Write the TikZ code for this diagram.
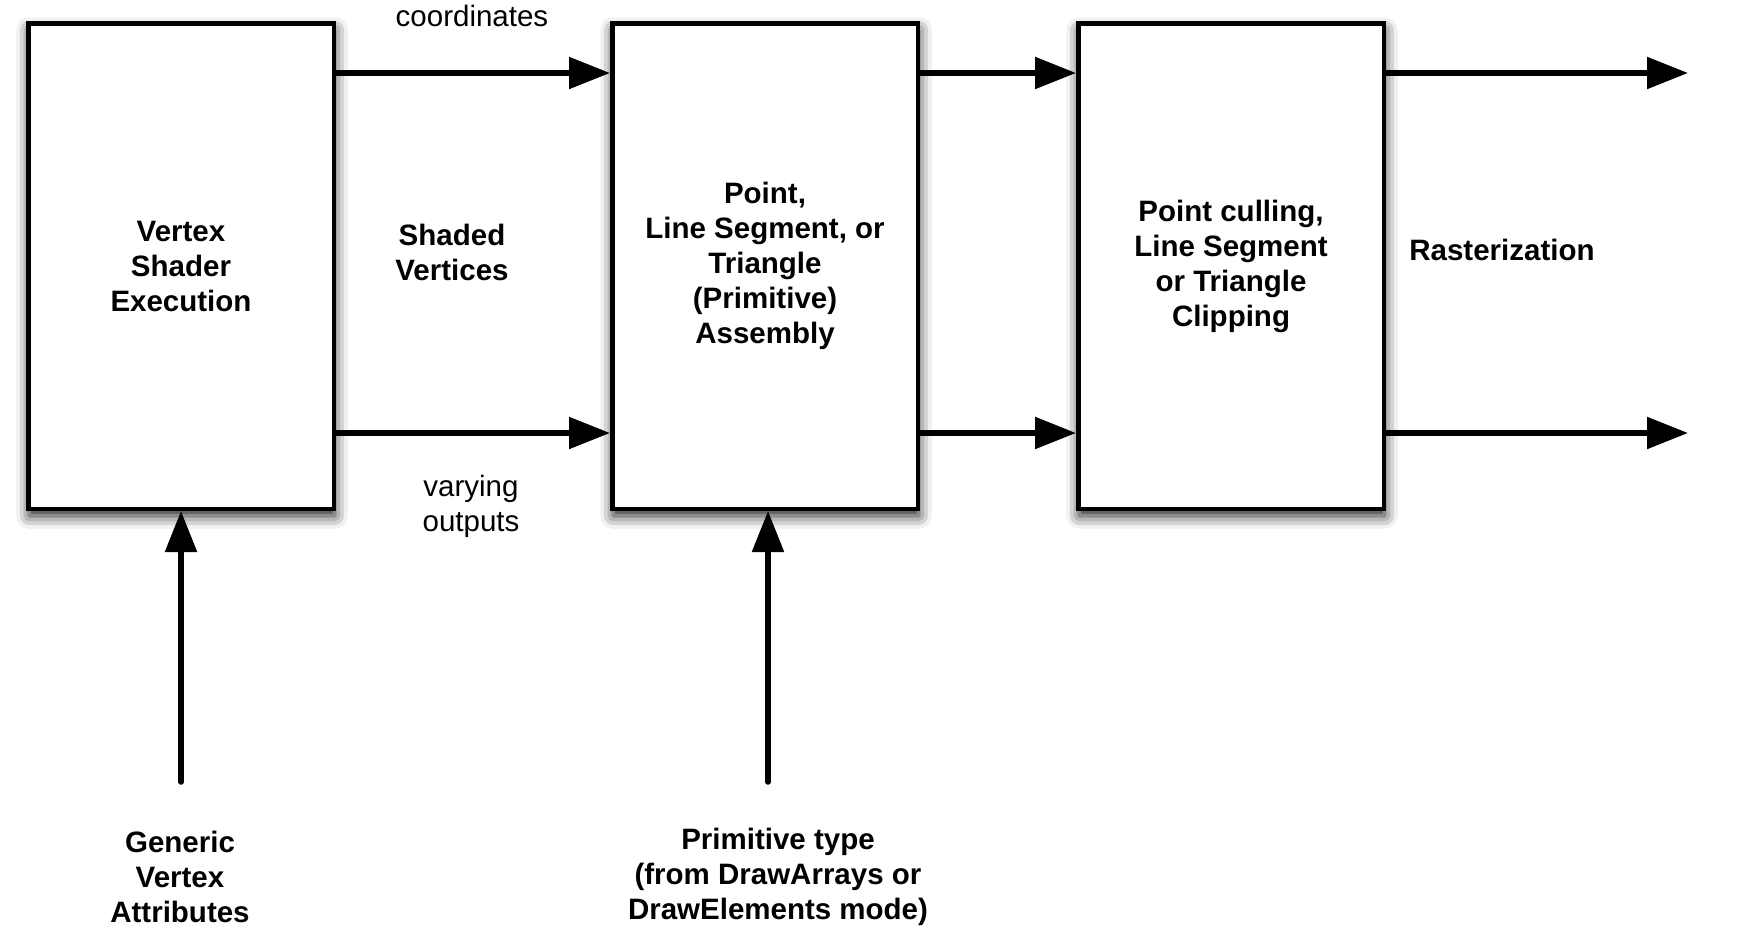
\documentclass[tikz,border=0pt]{standalone}
\usepackage{fontspec}
\setmainfont{Liberation Sans}
\usetikzlibrary{arrows.meta,shadows.blur}
\begin{document}
\begin{tikzpicture}[x=1pt,y=-1pt,
  stagebox/.style={draw=black, line width=4.5pt, fill=white,
    minimum width=305.5pt, minimum height=485.5pt, inner sep=0pt,
    align=center, font=\fontsize{29.5}{35}\selectfont\bfseries,
    blur shadow={shadow xshift=1pt, shadow yshift=-7pt, shadow blur radius=13pt, shadow opacity=90}},
  boldlabel/.style={align=center, inner sep=0pt, font=\fontsize{29.5}{35}\selectfont\bfseries},
  plainlabel/.style={align=center, inner sep=0pt, font=\fontsize{29.5}{35}\selectfont},
  arr/.style={line width=5.5pt, line cap=round, -{Triangle[length=41pt, width=31pt]}}
]
\useasboundingbox (0,0) rectangle (1741,929);

\node[stagebox] (vs) at (181,266) {Vertex\\Shader\\Execution};
\node[stagebox] (pa) at (765,266) {Point,\\Line Segment, or\\Triangle\\(Primitive)\\Assembly};
\node[stagebox] (cl) at (1231,266) {Point culling,\\Line Segment\\or Triangle\\Clipping};

\coordinate (r1) at (0,73);
\coordinate (r2) at (0,433);
\coordinate (o1) at (1688,73);
\coordinate (o2) at (1688,433);
\coordinate (gs) at (181,782);
\coordinate (ps) at (768,782);

\draw[arr] (vs.east |- r1) -- (pa.west |- r1);
\draw[arr] (vs.east |- r2) -- (pa.west |- r2);
\draw[arr] (pa.east |- r1) -- (cl.west |- r1);
\draw[arr] (pa.east |- r2) -- (cl.west |- r2);
\draw[arr] (cl.east |- r1) -- (o1);
\draw[arr] (cl.east |- r2) -- (o2);
\draw[arr] (gs) -- (vs.south -| gs);
\draw[arr] (ps) -- (pa.south -| ps);

\node[plainlabel] (coord) at (472,16) {coordinates};
\node[boldlabel] (shv) at (452,252) {Shaded\\Vertices};
\node[plainlabel] (vary) at (471,506) {varying\\outputs};
\node[boldlabel] (rast) at (1502,250) {Rasterization};
\node[boldlabel] (gen) at (180,877) {Generic\\Vertex\\Attributes};
\node[boldlabel] (prim) at (778,877) {Primitive type\\(from DrawArrays or\\DrawElements mode)};
\end{tikzpicture}
\end{document}
